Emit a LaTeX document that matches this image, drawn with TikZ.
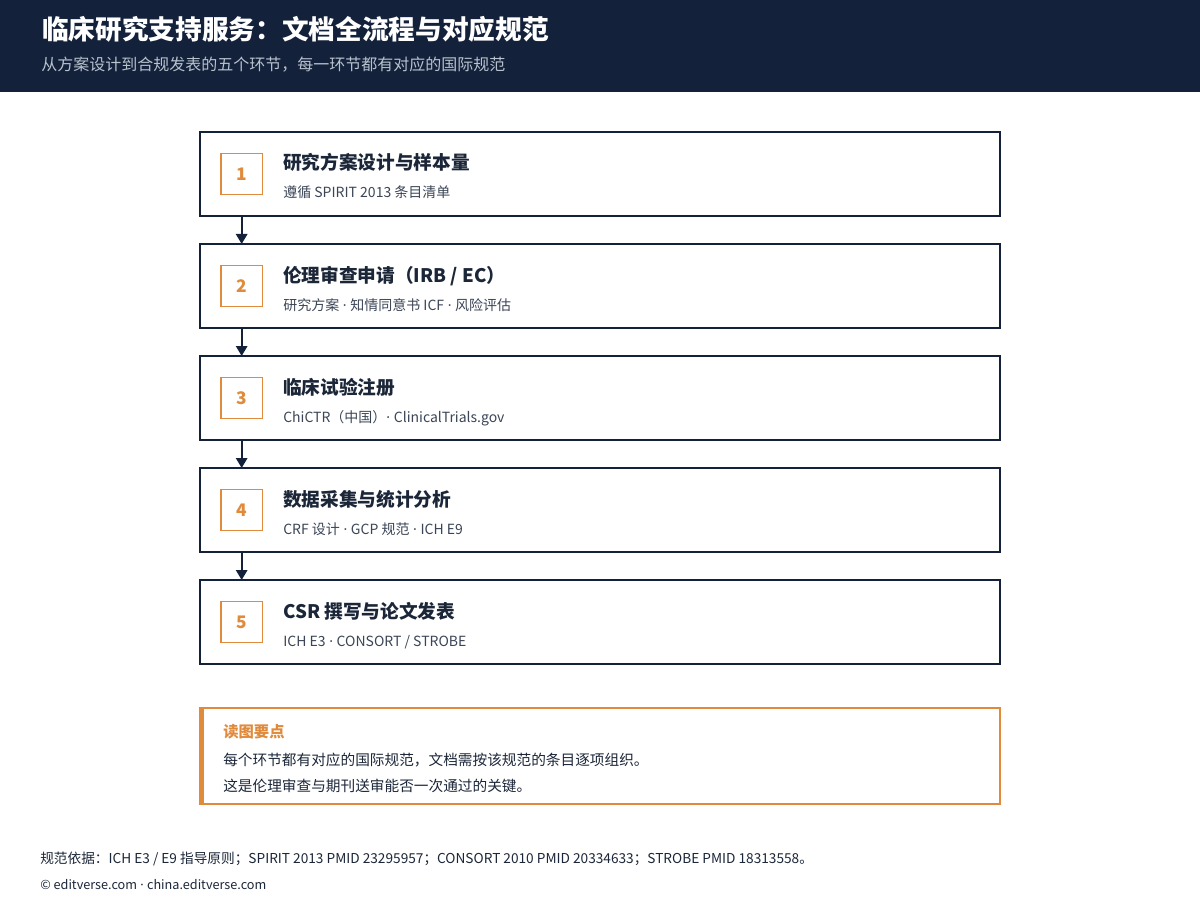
\documentclass[tikz,border=0pt]{standalone}
\usepackage{fontspec}
\setmainfont{Noto Sans CJK SC}
\newfontfamily\latinfont{Noto Sans}
\usetikzlibrary{positioning,arrows.meta}

\definecolor{navy}{HTML}{13213A}
\definecolor{accent}{HTML}{E08A3C}
\definecolor{ink}{HTML}{1B2638}
\definecolor{soft}{HTML}{3B4556}
\definecolor{pale}{HTML}{B8C2CF}

\newcommand{\mdot}{{\latinfont\ ·\ }}

\begin{document}
\begin{tikzpicture}[x=0.75pt, y=-0.75pt,
    stage/.style = {draw=navy, line width=1.5pt, minimum width=600pt,
                    minimum height=63pt, inner sep=0pt, outer sep=0pt},
    numbox/.style = {draw=accent, line width=1.2pt, minimum size=31pt,
                     inner sep=0pt, outer sep=0pt, text=accent,
                     font=\fontsize{13}{15}\selectfont\bfseries},
    head/.style = {anchor=base west, inner sep=0pt, text=ink,
                   font=\fontsize{14}{16}\selectfont\bfseries},
    sub/.style = {anchor=base west, inner sep=0pt, text=soft,
                  font=\fontsize{10.5}{12}\selectfont},
    flow/.style = {draw=navy, line width=1.5pt, -{Triangle[length=7.5pt, width=8.5pt]}},
    notebox/.style = {draw=accent, line width=1.1pt, minimum width=600pt,
                      minimum height=72pt, inner sep=0pt, outer sep=0pt},
    notetext/.style = {anchor=base west, inner sep=0pt, text=ink,
                       font=\fontsize{11}{13}\selectfont}]
    \useasboundingbox (0,0) rectangle (1200,920);

    % header band
    \fill[navy] (0,0) rectangle (1200,92);
    \node[anchor=base west, inner sep=0pt, text=white,
          font=\fontsize{20}{24}\selectfont\bfseries] (title) at (42,40)
          {临床研究支持服务：文档全流程与对应规范};
    \node[anchor=base west, inner sep=0pt, text=pale,
          font=\fontsize{12}{14}\selectfont] (subtitle) at (41,71)
          {从方案设计到合规发表的五个环节，每一环节都有对应的国际规范};

    % stages
    \node[stage, anchor=north west] (s1) at (200,132) {};
    \node[stage, below=21pt of s1] (s2) {};
    \node[stage, below=21pt of s2] (s3) {};
    \node[stage, below=21pt of s3] (s4) {};
    \node[stage, below=21pt of s4] (s5) {};

    \node[numbox, right=15.75pt of s1.west] (n1) {1};
    \node[numbox, right=15.75pt of s2.west] (n2) {2};
    \node[numbox, right=15.75pt of s3.west] (n3) {3};
    \node[numbox, right=15.75pt of s4.west] (n4) {4};
    \node[numbox, right=15.75pt of s5.west] (n5) {5};

    \node[head] (h1) at ([xshift=62.25pt, yshift=3pt]s1.west) {研究方案设计与样本量};
    \node[sub]  (d1) at ([xshift=62.25pt, yshift=-18pt]s1.west) {遵循 SPIRIT 2013 条目清单};
    \node[head] (h2) at ([xshift=62.25pt, yshift=3pt]s2.west) {伦理审查申请（IRB / EC）};
    \node[sub]  (d2) at ([xshift=62.25pt, yshift=-18pt]s2.west) {研究方案\mdot 知情同意书 ICF\mdot 风险评估};
    \node[head] (h3) at ([xshift=62.25pt, yshift=3pt]s3.west) {临床试验注册};
    \node[sub]  (d3) at ([xshift=62.25pt, yshift=-18pt]s3.west) {ChiCTR（中国）{\latinfont· }ClinicalTrials.gov};
    \node[head] (h4) at ([xshift=62.25pt, yshift=3pt]s4.west) {数据采集与统计分析};
    \node[sub]  (d4) at ([xshift=62.25pt, yshift=-18pt]s4.west) {CRF 设计\mdot GCP 规范\mdot ICH E9};
    \node[head] (h5) at ([xshift=62.25pt, yshift=3pt]s5.west) {CSR 撰写与论文发表};
    \node[sub]  (d5) at ([xshift=62.25pt, yshift=-18pt]s5.west) {ICH E3\mdot CONSORT / STROBE};

    \draw[flow] (s1.south -| n1) -- (s2.north -| n1);
    \draw[flow] (s2.south -| n2) -- (s3.north -| n2);
    \draw[flow] (s3.south -| n3) -- (s4.north -| n3);
    \draw[flow] (s4.south -| n4) -- (s5.north -| n4);

    % reading note
    \node[notebox, below=33pt of s5] (note) {};
    \fill[accent] (note.north west) rectangle ([xshift=3pt]note.south west);
    \node[anchor=base west, inner sep=0pt, text=accent,
          font=\fontsize{11.5}{13}\selectfont\bfseries] (notehead)
          at ([xshift=17.25pt, yshift=-21.75pt]note.north west) {读图要点};
    \node[notetext] (note1) at ([xshift=17.25pt, yshift=-42.75pt]note.north west)
          {每个环节都有对应的国际规范，文档需按该规范的条目逐项组织。};
    \node[notetext] (note2) at ([xshift=17.25pt, yshift=-62.25pt]note.north west)
          {这是伦理审查与期刊送审能否一次通过的关键。};

    % footer
    \node[anchor=base west, inner sep=0pt, text=ink,
          font=\fontsize{10.25}{12}\selectfont] (source) at (40,863)
          {规范依据：ICH E3 / E9 指导原则；SPIRIT 2013 PMID 23295957；CONSORT 2010 PMID 20334633；STROBE PMID 18313558。};
    \node[anchor=base west, inner sep=0pt, text=ink,
          font=\fontsize{9.5}{11}\selectfont] (credit) at (40,889)
          {© editverse.com\mdot china.editverse.com};
\end{tikzpicture}
\end{document}
